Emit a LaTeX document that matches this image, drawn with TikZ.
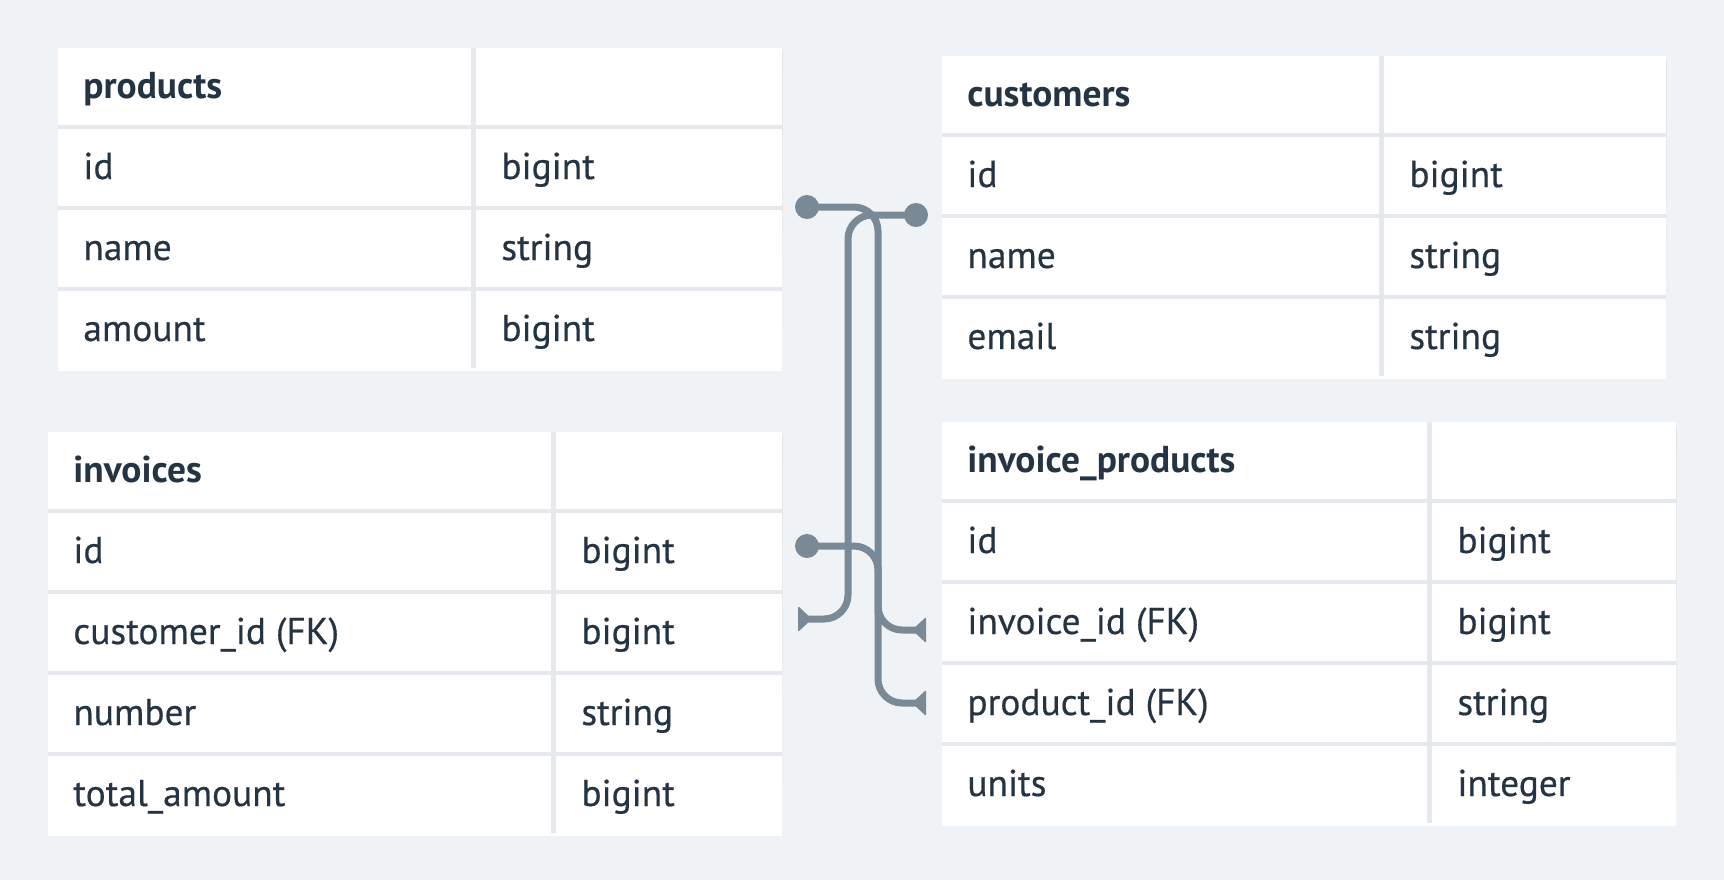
\documentclass[tikz,border=0pt]{standalone}
\usepackage{fontspec}
\setmainfont{PT Sans}[UprightFeatures={FakeBold=0.4}]
\usetikzlibrary{calc}
\definecolor{bg}{RGB}{240,243,246}
\definecolor{gapc}{RGB}{229,233,237}
\definecolor{shade}{RGB}{232,236,240}
\definecolor{ink}{RGB}{37,52,67}
\definecolor{wire}{RGB}{122,137,150}
\tikzset{x=0.5pt,y=-0.5pt,
  celltext/.style={anchor=base west, inner sep=0pt, text=ink, font=\fontsize{18.7}{21}\selectfont},
  wirepath/.style={draw=wire, line width=3.5pt, rounded corners=12pt},
}
\newcommand\ertable[7]{% prefix, x0, xsplit, x1, y0, rows count, rows
  \fill[shade] (#2,#5+4) rectangle (#4,#5+#6*81-2);
  \foreach \nm/\tp [count=\i from 0] in {#7} {
    \pgfmathsetmacro\ya{#5+\i*81}
    \pgfmathsetmacro\yb{\ya+77}
    \ifnum\i>0 \fill[gapc] (#2,\ya-4) rectangle (#4,\ya); \fi
    \fill[white] (#2,\ya) rectangle (#4,\yb);
    \fill[gapc] (#3,\ya) rectangle (#3+5,\yb);
    \node[celltext] (#1-\i-n) at (#2+25,\ya+50) {\ifnum\i=0 \bfseries\fi\nm};
    \node[celltext] (#1-\i-t) at (#3+30,\ya+50) {\tp};
  }
}
\begin{document}
\begin{tikzpicture}
\fill[bg] (0,0) rectangle (1724,880);
\useasboundingbox (0,0) rectangle (1724,880);
\ertable{prod}{58}{471}{782}{48}{4}{products/{},id/bigint,name/string,amount/bigint}
\ertable{cust}{942}{1379}{1666}{56}{4}{customers/{},id/bigint,name/string,email/string}
\ertable{inv}{48}{551}{782}{432}{5}{invoices/{},id/bigint,customer\_id (FK)/bigint,number/string,total\_amount/bigint}
\ertable{ip}{942}{1427}{1676}{422}{5}{invoice\_products/{},id/bigint,invoice\_id (FK)/bigint,product\_id (FK)/string,units/integer}
% connector anchor points
\coordinate (pdot) at (807,207);
\coordinate (pbend) at (878,450);
\coordinate (ptip) at (918,703);
\coordinate (cdot) at (916,215);
\coordinate (cbend) at (848,400);
\coordinate (ctip) at (806,619);
\coordinate (idot) at (807,546);
\coordinate (ibend) at (878,590);
\coordinate (itip) at (918,630);
% products.id -> invoice_products.product_id
\draw[wirepath] (pdot) -| (pbend) |- (ptip);
% customers.id -> invoices.customer_id
\draw[wirepath] (cdot) -| (cbend) |- (ctip);
% invoices.id -> invoice_products.invoice_id
\draw[wirepath] (idot) -| (ibend) |- (itip);
% ends
\foreach \d in {pdot,cdot,idot} \fill[wire] (\d) circle[radius=12];
\foreach \t in {ptip,itip} \fill[wire, rounded corners=0.6pt] (\t) ++(8,-13) -- ++(-14,13) -- ++(14,13) -- cycle;
\fill[wire, rounded corners=0.6pt] (ctip) ++(-8,-13) -- ++(14,13) -- ++(-14,13) -- cycle;
\end{tikzpicture}
\end{document}
